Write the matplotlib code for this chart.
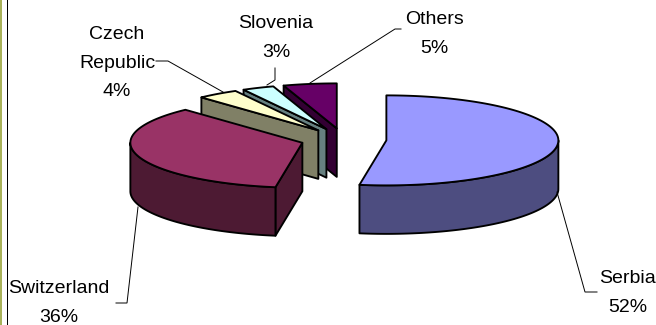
import numpy as np
import matplotlib
matplotlib.use("Agg")
import matplotlib.pyplot as plt
from matplotlib.patches import Polygon, Rectangle

plt.rcParams['font.family'] = ['Liberation Sans', 'DejaVu Sans']

# --- data ---
countries = ["Serbia", "Switzerland", "Czech\nRepublic", "Slovenia", "Others"]
shares = [52.5, 35.6, 3.9, 3.0, 5.0]
top_colors = ["#9999FF", "#993366", "#FFFFCC", "#CCFFFF", "#660066"]
side_colors = ["#4D4D80", "#4D1A33", "#808066", "#668080", "#330033"]

# --- layout (pixels of the picture) ---
CX, CY = 343.5, 139.5
RX, RY = 172.0, 45.0
DEPTH = 48.5
EXPLODE = 0.25
LW = 1.35
label_xy = [(628, 293), (59, 303), (117, 63), (276, 38), (434, 34)]
leaders = [
    [(557, 192), (585, 292), (597, 292)],
    [(138, 207), (127, 303), (116, 303)],
    [(156, 61), (168, 61), (223, 92)],
    [(275, 68), (275, 80), (267, 85)],
    [(401, 29), (395, 29), (310, 83)],
]

fig = plt.figure(figsize=(6.56, 3.25), dpi=100)
ax = fig.add_axes([0, 0, 1, 1])
ax.set_xlim(0, 656)
ax.set_ylim(325, 0)
ax.axis("off")

ax.add_patch(Rectangle((0, 0), 1.8, 325, fc="#A9B25A", ec="none"))
ax.add_patch(Rectangle((6.6, 0), 1.3, 325, fc="black", ec="none"))


def pt(apex, deg):
    a = np.radians(deg)
    return apex[0] + RX * np.sin(a), apex[1] - RY * np.cos(a)


def arc(apex, d0, d1):
    n = max(2, int(abs(d1 - d0)) + 2)
    return [pt(apex, d) for d in np.linspace(d0, d1, n)]


def shifted(points):
    return [(x, y + DEPTH) for x, y in points]


def draw(poly, color, z):
    ax.add_patch(Polygon(poly, closed=True, fc=color, ec="black", lw=LW,
                         joinstyle="round", zorder=z))


edges = np.cumsum([0] + shares) / sum(shares) * 360.0
# back slices first, so the nearer ones cover them
for i in range(len(shares) - 1, -1, -1):
    d0, d1 = edges[i], edges[i + 1]
    mid = np.radians((d0 + d1) / 2)
    apex = (CX + EXPLODE * RX * np.sin(mid), CY - EXPLODE * RY * np.cos(mid))
    z = 2 + (len(shares) - i)
    if np.sin(np.radians(d1)) > 1e-6:
        e = [apex, pt(apex, d1)]
        draw(e + shifted(e)[::-1], side_colors[i], z)
    if np.sin(np.radians(d0)) < -1e-6:
        e = [apex, pt(apex, d0)]
        draw(e + shifted(e)[::-1], side_colors[i], z)
    lo, hi = max(d0, 90), min(d1, 270)
    if hi > lo:
        a = arc(apex, lo, hi)
        draw(a + shifted(a)[::-1], side_colors[i], z)
    draw([apex] + arc(apex, d0, d1), top_colors[i], z)

for path in leaders:
    xs, ys = zip(*path)
    ax.plot(xs, ys, color="black", lw=0.7, zorder=20, solid_joinstyle="miter")

for name, share, (x, y) in zip(countries, shares, label_xy):
    ax.text(x, y, f"{name}\n{share:.0f}%", ha="center", va="center", color="black",
            fontsize=14, linespacing=1.92, zorder=30)

fig.savefig("out.png", dpi=100, facecolor="white")
